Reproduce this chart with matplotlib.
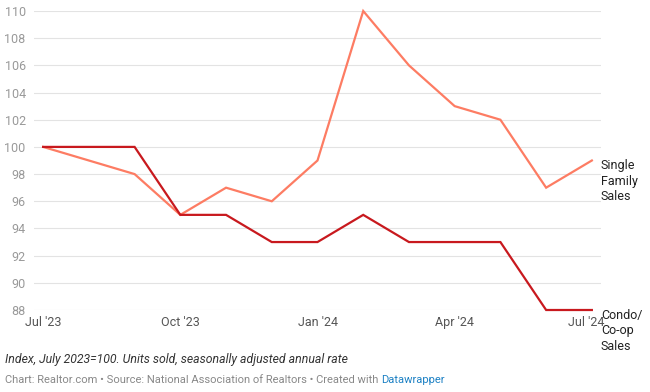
import matplotlib.pyplot as plt
from matplotlib.transforms import ScaledTranslation

# data (index, July 2023 = 100)
months = ["Jul '23", "Aug '23", "Sep '23", "Oct '23", "Nov '23", "Dec '23", "Jan '24",
          "Feb '24", "Mar '24", "Apr '24", "May '24", "Jun '24", "Jul '24"]
single_family = [100, 99, 98, 95, 97, 96, 99, 110, 106, 103, 102, 97, 99]
condo = [100, 100, 100, 95, 95, 93, 93, 95, 93, 93, 93, 88, 88]
tick_labels = ["Jul '23", "Oct '23", "Jan '24", "Apr '24", "Jul '24"]
y_ticks = list(range(88, 111, 2))

plt.rcParams['font.family'] = ['Roboto', 'DejaVu Sans']

fig = plt.figure(figsize=(6.5, 3.92), dpi=100)
ax = fig.add_axes([34 / 650, 1 - 310 / 392, (601 - 34) / 650, 299 / 392])

x = list(range(len(months)))
ax.plot(x, single_family, color='#fd7c63', lw=1.6, clip_on=False, solid_joinstyle='miter')
ax.plot(x, condo, color='#c8191e', lw=1.6, clip_on=False, solid_joinstyle='miter')

ax.set_xlim(-0.2, 12.2)
ax.set_ylim(88, 110)
ax.set_yticks(y_ticks)
ax.set_yticklabels([str(v) for v in y_ticks], fontsize=9, color='#999999')
ax.set_xticks([months.index(t) for t in tick_labels])
ax.set_xticklabels(tick_labels, fontsize=9, color='#555555')
ax.tick_params(axis='y', length=0, pad=6)
ax.tick_params(axis='x', length=0, pad=4)
ax.grid(axis='y', color='#e3e3e3', lw=0.8)
ax.set_axisbelow(True)
for s in ax.spines.values():
    s.set_visible(False)

# last month label is pulled in a little, as in the original
last = ax.get_xticklabels()[-1]
last.set_transform(last.get_transform() + ScaledTranslation(-4 / 72, 0, fig.dpi_scale_trans))

# line labels at the end of each line
ax.annotate('Single\nFamily\nSales', xy=(12, single_family[-1]), xytext=(6.5, 1),
            textcoords='offset points', ha='left', va='top', fontsize=9,
            color='#222222', linespacing=1.25, annotation_clip=False)
ax.annotate('Condo/\nCo-op\nSales', xy=(12, condo[-1]), xytext=(6.5, 1),
            textcoords='offset points', ha='left', va='top', fontsize=9,
            color='#222222', linespacing=1.25, annotation_clip=False)

# footer
fig.text(5 / 650, 1 - 360 / 392, 'Index, July 2023=100. Units sold, seasonally adjusted annual rate',
         fontsize=8.8, style='italic', color='#333333', va='center')
t = fig.text(5 / 650, 1 - 380 / 392,
             'Chart: Realtor.com \u2022 Source: National Association of Realtors \u2022 Created with ',
             fontsize=8, color='#888888', va='center')
fig.canvas.draw()
bb = t.get_window_extent()
fig.text(bb.x1 / 650, 1 - 380 / 392, 'Datawrapper', fontsize=8, color='#1d81c4',
         va='center')

fig.savefig('out.png', dpi=100)
